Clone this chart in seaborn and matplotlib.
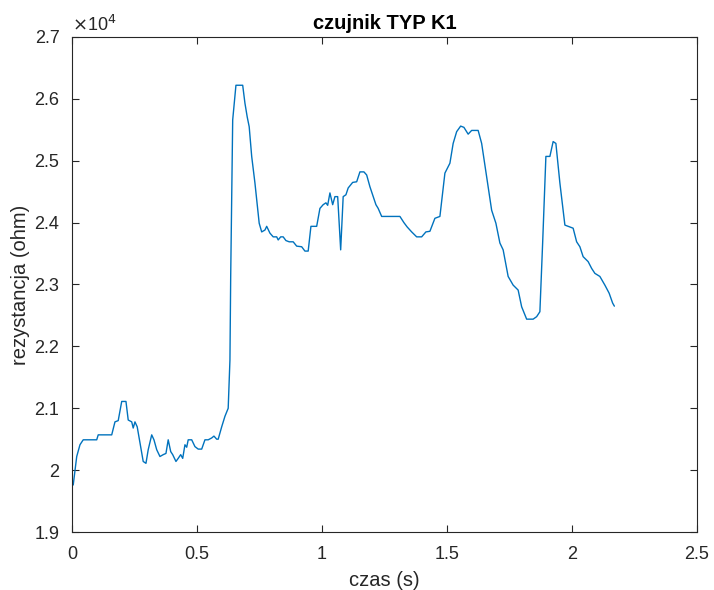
import matplotlib
matplotlib.use("Agg")
import matplotlib.pyplot as plt
import seaborn as sns
import pandas as pd

# czas (s) and rezystancja (ohm)
czas = [0.005, 0.019, 0.032, 0.045, 0.099, 0.105, 0.159, 0.172, 0.185, 0.199,
        0.216, 0.225, 0.239, 0.245, 0.252, 0.261, 0.272, 0.285, 0.296, 0.305,
        0.319, 0.328, 0.339, 0.352, 0.365, 0.376, 0.385, 0.395, 0.403, 0.416,
        0.425, 0.435, 0.443, 0.452, 0.459, 0.465, 0.479, 0.492, 0.505, 0.519,
        0.532, 0.545, 0.559, 0.568, 0.579, 0.585, 0.599, 0.612, 0.625, 0.632,
        0.635, 0.643, 0.656, 0.683, 0.692, 0.701, 0.709, 0.719, 0.732, 0.749,
        0.759, 0.772, 0.779, 0.792, 0.805, 0.819, 0.825, 0.835, 0.845, 0.856,
        0.869, 0.885, 0.899, 0.919, 0.932, 0.945, 0.956, 0.979, 0.992, 1.005,
        1.016, 1.023, 1.032, 1.043, 1.052, 1.063, 1.075, 1.085, 1.096, 1.105,
        1.123, 1.139, 1.152, 1.168, 1.179, 1.192, 1.205, 1.216, 1.225, 1.239,
        1.312, 1.328, 1.341, 1.359, 1.379, 1.399, 1.416, 1.432, 1.452, 1.472,
        1.492, 1.512, 1.525, 1.539, 1.555, 1.568, 1.585, 1.599, 1.625, 1.639,
        1.659, 1.679, 1.696, 1.712, 1.725, 1.745, 1.765, 1.785, 1.799, 1.819,
        1.845, 1.859, 1.872, 1.883, 1.896, 1.912, 1.925, 1.936, 1.952, 1.972,
        1.985, 2.005, 2.019, 2.032, 2.045, 2.065, 2.079, 2.092, 2.112, 2.132,
        2.149, 2.163, 2.170]
rezystancja = [1.976, 2.022, 2.041, 2.049, 2.049, 2.057, 2.057, 2.078, 2.080, 2.111,
               2.111, 2.081, 2.078, 2.068, 2.078, 2.070, 2.044, 2.014, 2.011, 2.033,
               2.057, 2.049, 2.033, 2.022, 2.025, 2.027, 2.049, 2.030, 2.025, 2.014,
               2.019, 2.025, 2.019, 2.041, 2.037, 2.049, 2.049, 2.038, 2.034, 2.034,
               2.049, 2.049, 2.052, 2.055, 2.050, 2.050, 2.070, 2.087, 2.100, 2.178,
               2.313, 2.566, 2.622, 2.622, 2.593, 2.571, 2.555, 2.507, 2.464, 2.399,
               2.385, 2.388, 2.394, 2.383, 2.377, 2.377, 2.372, 2.377, 2.377, 2.371,
               2.369, 2.369, 2.362, 2.361, 2.354, 2.354, 2.394, 2.394, 2.423, 2.429,
               2.432, 2.428, 2.448, 2.429, 2.442, 2.442, 2.356, 2.442, 2.445, 2.456,
               2.465, 2.466, 2.482, 2.482, 2.477, 2.458, 2.442, 2.429, 2.423, 2.410,
               2.410, 2.400, 2.393, 2.385, 2.377, 2.377, 2.385, 2.386, 2.407, 2.410,
               2.480, 2.496, 2.528, 2.547, 2.556, 2.554, 2.543, 2.549, 2.549, 2.528,
               2.474, 2.420, 2.399, 2.367, 2.356, 2.313, 2.299, 2.291, 2.264, 2.244,
               2.244, 2.248, 2.256, 2.367, 2.507, 2.507, 2.531, 2.528, 2.464, 2.396,
               2.394, 2.391, 2.369, 2.361, 2.345, 2.337, 2.326, 2.318, 2.313, 2.299,
               2.286, 2.270, 2.265]

x_ticks = [0, 0.5, 1, 1.5, 2, 2.5]
x_tick_labels = ['0', '0.5', '1', '1.5', '2', '2.5']
y_ticks = [1.9, 2.0, 2.1, 2.2, 2.3, 2.4, 2.5, 2.6, 2.7]
y_tick_labels = ['1.9', '2', '2.1', '2.2', '2.3', '2.4', '2.5', '2.6', '2.7']

sns.set_style("white")
plt.rcParams['font.family'] = ['Liberation Sans', 'DejaVu Sans']

df = pd.DataFrame({'czas': czas, 'rez': [v * 1e4 for v in rezystancja]})

fig = plt.figure(figsize=(7.14, 5.9), dpi=100)
ax = fig.add_axes([0.1008, 0.0983, 0.8752, 0.8390])
sns.lineplot(data=df, x='czas', y='rez', color='#0072BD', linewidth=1.0, ax=ax)

ax.set_xlim(0, 2.5)
ax.set_ylim(1.9e4, 2.7e4)
ax.set_xticks(x_ticks)
ax.set_xticklabels(x_tick_labels)
ax.set_yticks([v * 1e4 for v in y_ticks])
ax.set_yticklabels(y_tick_labels)

axc = '#262626'
for s in ax.spines.values():
    s.set_color(axc)
    s.set_linewidth(0.8)
ax.tick_params(direction='in', length=5, width=0.8, colors=axc, labelsize=13,
               top=True, right=True, bottom=True, left=True)
ax.tick_params(axis='x', pad=10)
ax.tick_params(axis='y', pad=9)

ax.set_xlabel('czas (s)', fontsize=14.5, color=axc, labelpad=6)
ax.set_ylabel('rezystancja (ohm)', fontsize=14.5, color=axc, labelpad=3)
ax.set_title('czujnik TYP K1', fontsize=14.5, fontweight='bold', color='black', pad=6)
ax.text(0.0, 1.005, r'$\times$10$^{4}$', transform=ax.transAxes, ha='left',
        va='bottom', fontsize=13, color=axc)

fig.savefig('out.png', dpi=100, facecolor='white')
